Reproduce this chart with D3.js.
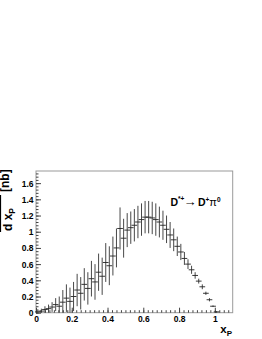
<!DOCTYPE html>
<html>
<head>
<meta charset="utf-8">
<script src="https://cdn.jsdelivr.net/npm/d3@7"></script>
<style>
  html, body { margin: 0; padding: 0; background: #fff; }
  svg { display: block; }
  text { font-family: "Liberation Sans", Arial, sans-serif; font-weight: bold; fill: #000; }
</style>
</head>
<body>
<div id="graphicContainer"></div>
<script>

// bin centres, measured values and total errors (nb)
var xCenters = [0.01,0.03,0.05,0.07,0.09,0.11,0.13,0.15,0.17,0.19,
                0.21,0.23,0.25,0.27,0.29,0.31,0.33,0.35,0.37,0.39,
                0.41,0.43,0.45,0.47,0.49,0.51,0.53,0.55,0.57,0.59,
                0.61,0.63,0.65,0.67,0.69,0.71,0.73,0.75,0.77,0.79,
                0.81,0.83,0.85,0.87,0.89,0.91,0.93,0.95,0.97,0.99,1.01]
var values = [0.01,0.02,0.04,0.05,0.07,0.10,0.08,0.13,0.18,0.14,
              0.20,0.28,0.24,0.35,0.30,0.42,0.38,0.50,0.45,0.62,
              0.58,0.70,0.80,1.04,0.92,1.02,1.05,1.08,1.12,1.15,
              1.18,1.18,1.17,1.15,1.12,1.08,1.03,0.96,0.90,0.82,
              0.75,0.67,0.60,0.53,0.46,0.39,0.32,0.24,0.16,0.08,0.01]
var errors = [0.02,0.03,0.04,0.05,0.06,0.08,0.12,0.15,0.17,0.17,
              0.18,0.20,0.20,0.20,0.20,0.22,0.22,0.23,0.23,0.24,
              0.24,0.24,0.24,0.26,0.24,0.21,0.20,0.20,0.20,0.20,
              0.20,0.20,0.20,0.20,0.19,0.18,0.17,0.16,0.14,0.12,
              0.10,0.08,0.06,0.05,0.04,0.03,0.03,0.02,0.02,0.01,0.01]
var halfWidth = 0.016

var yTicks = [0,0.2,0.4,0.6,0.8,1,1.2,1.4,1.6]
var yTickLabels = ["0","0.2","0.4","0.6","0.8","1","1.2","1.4","1.6"]
var xTicks = [0,0.2,0.4,0.6,0.8,1]
var xTickLabels = ["0","0.2","0.4","0.6","0.8","1"]

function init() {

	var width = 262
	var height = 339
	var margin = {top: 171, right: 29.3, bottom: 26.3, left: 36}

	var svg = d3.select("#graphicContainer").append("svg")
				.attr("width", width)
				.attr("height", height)

	var x = d3.scaleLinear()
		.domain([0, 1.1])
		.range([margin.left, width - margin.right])

	var y = d3.scaleLinear()
		.domain([0, 1.75])
		.range([height - margin.bottom, margin.top])

	// frame
	svg.append("rect")
		.attr("x", x(0)).attr("y", y(1.75))
		.attr("width", x(1.1) - x(0)).attr("height", y(0) - y(1.75))
		.attr("fill", "none").attr("stroke", "#9a9a9a").attr("stroke-width", 1)

	// minor ticks
	var yMinor = d3.range(0, 1.75, 0.04)
	var xMinor = d3.range(0, 1.1, 0.025)

	svg.append("g")
		.attr("transform", "translate(" + x(0) + ",0)")
		.call(d3.axisLeft(y).tickValues(yMinor).tickSize(-2.5).tickFormat(""))
		.call(g => g.select(".domain").remove())
		.selectAll("line").attr("stroke", "#444")

	svg.append("g")
		.attr("transform", "translate(0," + y(0) + ")")
		.call(d3.axisBottom(x).tickValues(xMinor).tickSize(-2.5).tickFormat(""))
		.call(g => g.select(".domain").remove())
		.selectAll("line").attr("stroke", "#444")

	// major ticks + labels
	var yAxis = svg.append("g")
		.attr("transform", "translate(" + x(0) + ",0)")
		.call(d3.axisLeft(y).tickValues(yTicks).tickSize(-5).tickPadding(2.5)
			.tickFormat((d, i) => yTickLabels[i]))
	yAxis.select(".domain").remove()
	yAxis.selectAll("line").attr("stroke", "#444")
	yAxis.selectAll("text").attr("font-size", 8.5).attr("font-family", null).attr("dy", "0.35em")

	var xAxis = svg.append("g")
		.attr("transform", "translate(0," + y(0) + ")")
		.call(d3.axisBottom(x).tickValues(xTicks).tickSize(-5).tickPadding(3.5)
			.tickFormat((d, i) => xTickLabels[i]))
	xAxis.select(".domain").remove()
	xAxis.selectAll("line").attr("stroke", "#444")
	xAxis.selectAll("text").attr("font-size", 8.5).attr("font-family", null)

	// data points
	var pts = svg.append("g")
		.selectAll("g")
		.data(xCenters)
		.enter()
		.append("g")

	pts.append("line")
		.attr("x1", d => x(d)).attr("x2", d => x(d))
		.attr("y1", (d, i) => y(values[i] + errors[i]))
		.attr("y2", (d, i) => y(Math.max(0, values[i] - errors[i])))
		.attr("stroke", "#333").attr("stroke-width", 0.9)

	pts.append("line")
		.attr("x1", d => x(d - halfWidth)).attr("x2", d => x(d + halfWidth))
		.attr("y1", (d, i) => y(values[i]))
		.attr("y2", (d, i) => y(values[i]))
		.attr("stroke", "#222").attr("stroke-width", 0.9)

	// axis titles
	var xt = svg.append("text")
		.attr("x", 232).attr("y", 333)
		.attr("text-anchor", "end")
		.attr("font-size", 11.5)
	xt.append("tspan").text("x")
	xt.append("tspan").attr("font-size", 8).attr("dy", 3).text("P")

	var yt = svg.append("g")
		.attr("transform", "translate(0,232) rotate(-90)")
	yt.append("text")
		.attr("x", 18).attr("y", -2)
		.attr("text-anchor", "middle")
		.attr("font-size", 12)
		.text("dσ")
	yt.append("line")
		.attr("x1", 0).attr("x2", 37)
		.attr("y1", 0.5).attr("y2", 0.5)
		.attr("stroke", "#000").attr("stroke-width", 1.2)
	var den = yt.append("text")
		.attr("x", 1).attr("y", 11.5)
		.attr("font-size", 12)
	den.append("tspan").text("d x")
	den.append("tspan").attr("font-size", 8.5).attr("dy", 3).text("P")
	yt.append("text")
		.attr("x", 40).attr("y", 9)
		.attr("font-size", 12)
		.text("[nb]")

	// label
	var lab = svg.append("text")
		.attr("x", 170.5).attr("y", 206)
		.attr("font-size", 10.5)
	lab.append("tspan").text("D")
	lab.append("tspan").attr("font-size", 6.5).attr("dy", -5).text("*+")
	lab.append("tspan").attr("font-weight", "normal").attr("font-size", 13).attr("dy", 5).attr("dx", -1).text("\u2192")
	lab.append("tspan").attr("dx", 1.5).text("D")
	lab.append("tspan").attr("font-size", 6.5).attr("dy", -4).text("+")
	lab.append("tspan").attr("font-weight", "normal").attr("font-size", 11).attr("dy", 4).text("\u03c0")
	lab.append("tspan").attr("font-size", 6.5).attr("dy", -4).text("0")

}	// end init

init()

</script>
</body>
</html>
